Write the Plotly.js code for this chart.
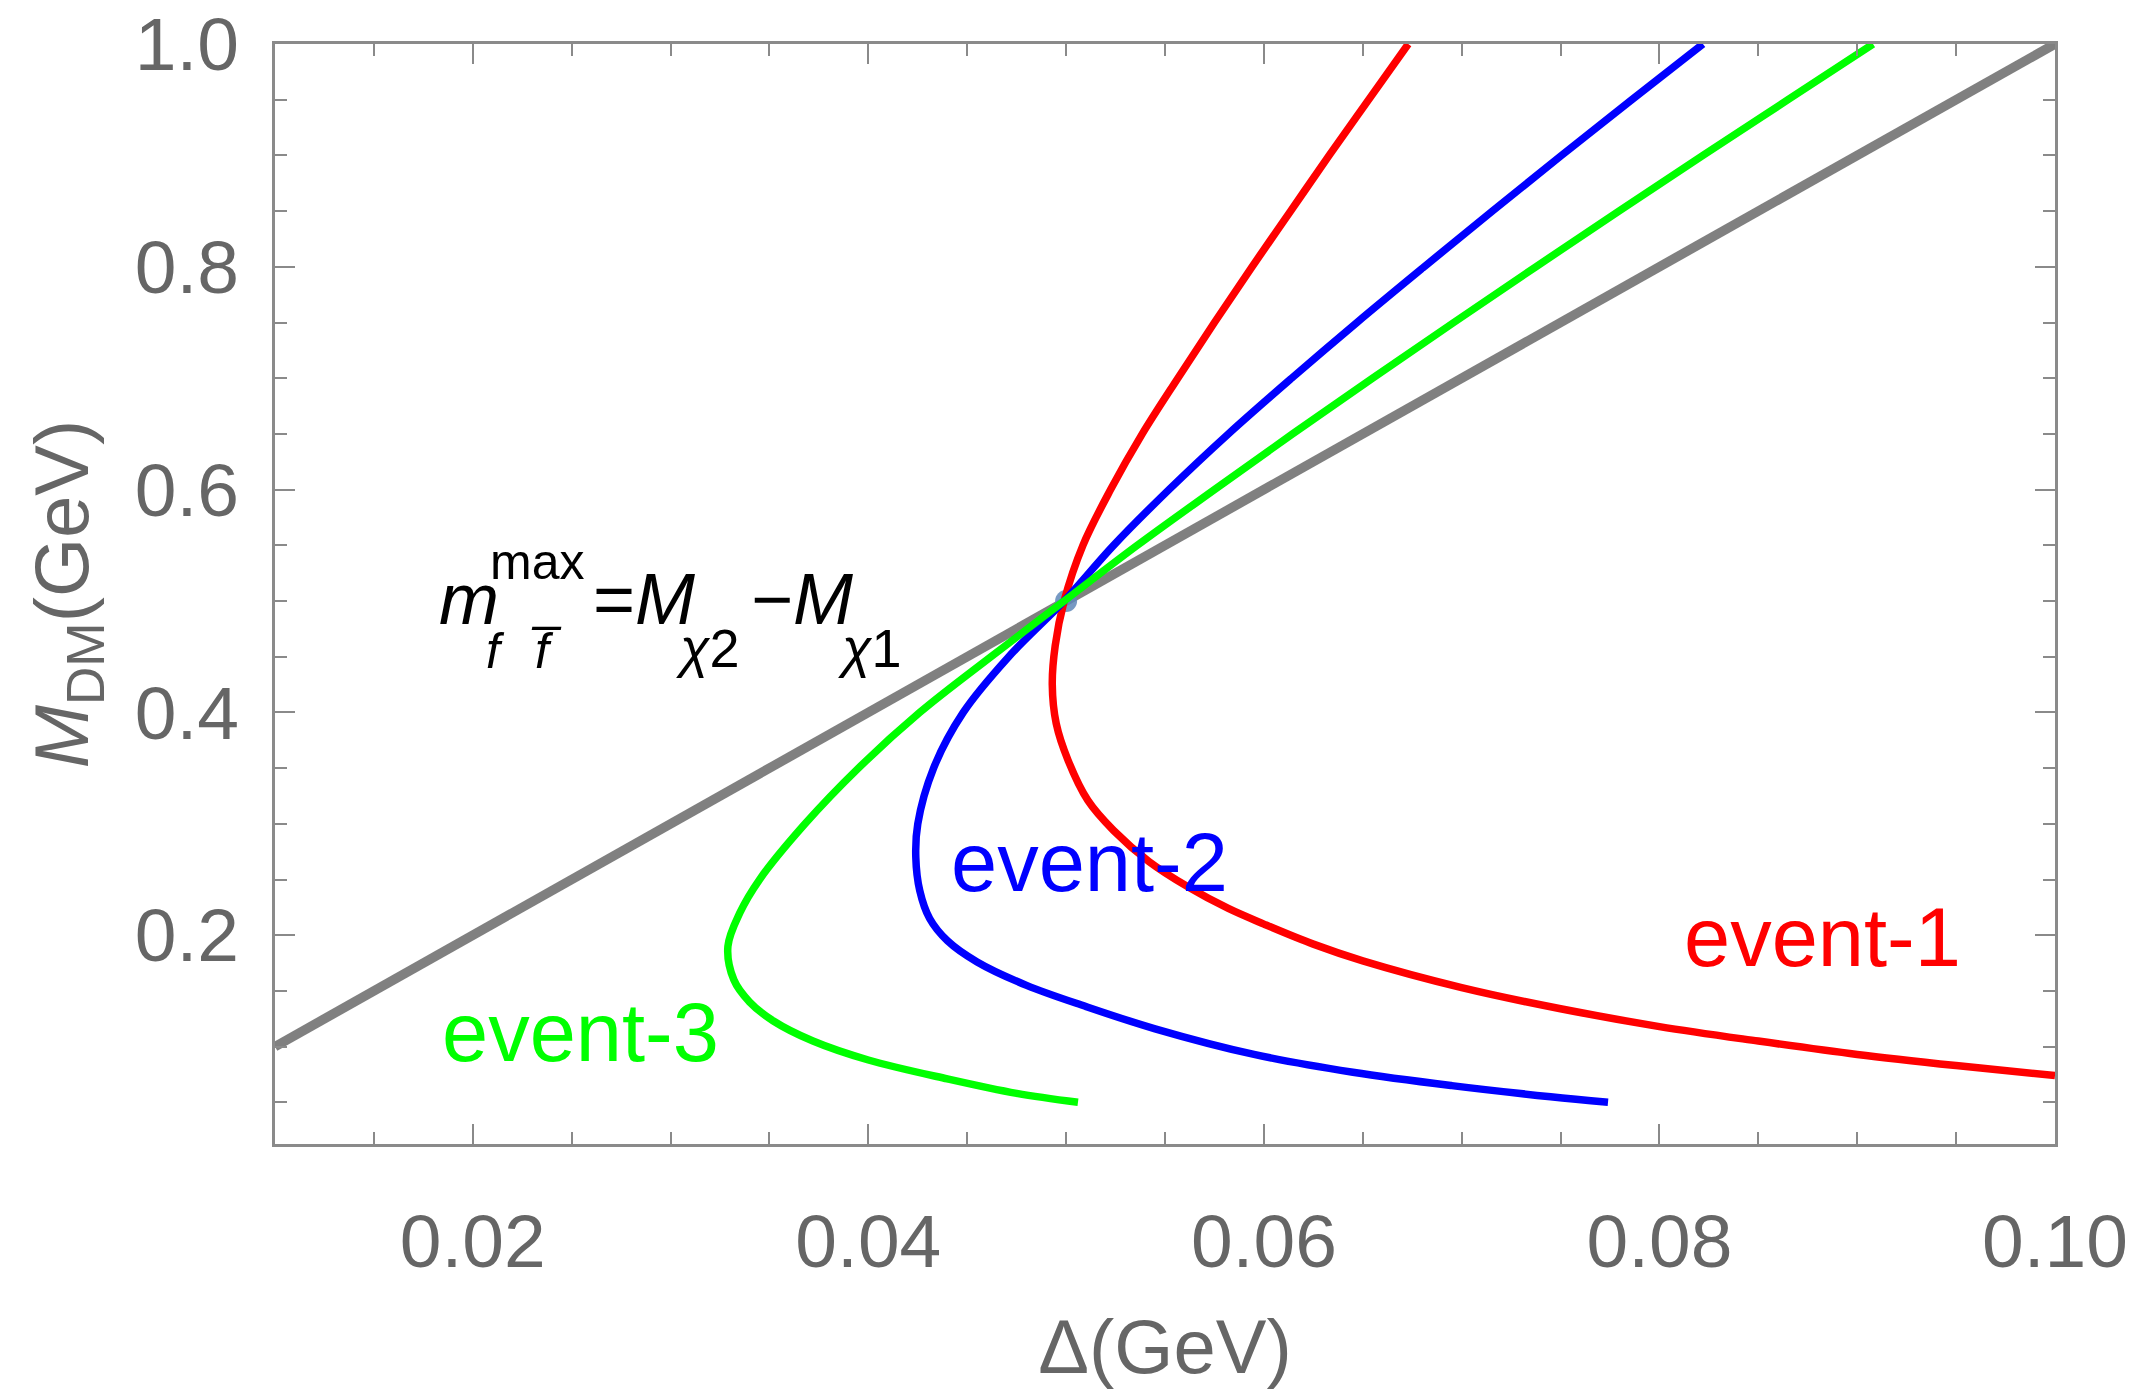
<!DOCTYPE html>
<html><head><meta charset="utf-8">
<script src="https://cdn.plot.ly/plotly-3.0.1.min.js"></script>
<style>html,body{margin:0;padding:0;background:#fff}</style>
</head><body>
<div id="chart" style="width:2141px;height:1389px"></div>
<script>
// gray reference line  m_ff^max = M_chi2 - M_chi1
const boundaryX = [0.01, 0.10];
const boundaryY = [0.10, 1.00];

// event-1 (red)
const event1X = [0.0673, 0.0653, 0.0633, 0.06135, 0.0594, 0.0575, 0.05565, 0.05385, 0.05225, 0.05085, 0.0499, 0.04945, 0.0493, 0.0495, 0.0501, 0.0511, 0.0524, 0.0542, 0.0562, 0.0582, 0.0600, 0.0625, 0.0650, 0.0700, 0.0750, 0.0800, 0.0850, 0.0900, 0.0950, 0.1000];
const event1Y = [1.000, 0.950, 0.900, 0.850, 0.800, 0.750, 0.700, 0.650, 0.600, 0.550, 0.500, 0.460, 0.425, 0.390, 0.357, 0.321, 0.294, 0.266, 0.243, 0.224, 0.210, 0.192, 0.177, 0.153, 0.134, 0.118, 0.105, 0.093, 0.083, 0.074];

// event-2 (blue)
const event2X = [0.0822, 0.0786, 0.07505, 0.07155, 0.0681, 0.0647, 0.0614, 0.0582, 0.0552, 0.0524, 0.0499, 0.0471, 0.0448, 0.0433, 0.0425, 0.0424, 0.0426, 0.0431, 0.0440, 0.0455, 0.0480, 0.0510, 0.0545, 0.0595, 0.0645, 0.0695, 0.0745, 0.0774];
const event2Y = [1.000, 0.950, 0.900, 0.850, 0.800, 0.750, 0.700, 0.650, 0.600, 0.550, 0.500, 0.450, 0.400, 0.350, 0.300, 0.270, 0.240, 0.215, 0.195, 0.176, 0.155, 0.136, 0.116, 0.093, 0.077, 0.065, 0.055, 0.050];

// event-3 (green)
const event3X = [0.0908, 0.0865, 0.0822, 0.07795, 0.07375, 0.0696, 0.0655, 0.06145, 0.0575, 0.0536, 0.0499, 0.0462, 0.0426, 0.0395, 0.0368, 0.0345, 0.0335, 0.0329, 0.0332, 0.0340, 0.0352, 0.0372, 0.0400, 0.0440, 0.0475, 0.0506];
const event3Y = [1.000, 0.950, 0.900, 0.850, 0.800, 0.750, 0.700, 0.650, 0.600, 0.550, 0.500, 0.450, 0.400, 0.350, 0.300, 0.250, 0.220, 0.190, 0.160, 0.140, 0.123, 0.105, 0.088, 0.071, 0.058, 0.050];

// common crossing point
const crossX = [0.05];
const crossY = [0.5];

const labelNames = ['event-1', 'event-2', 'event-3'];
const seriesColors = ['#ff0000', '#0000ff', '#00ff00'];

const axisGray = '#8a8a8a';
const textGray = '#666666';
const FONT = 'Liberation Sans, Arial, Helvetica, sans-serif';

const lineStyle = (c) => ({color: c, width: 7.5, shape: 'spline', smoothing: 1});

const traces = [
  {x: boundaryX, y: boundaryY, mode: 'lines', line: {color: '#808080', width: 9.5}, hoverinfo: 'skip'},
  {x: crossX, y: crossY, mode: 'markers', marker: {color: 'rgba(95,135,185,0.85)', size: 22}, hoverinfo: 'skip'},
  {x: event1X, y: event1Y, mode: 'lines', line: lineStyle(seriesColors[0]), name: labelNames[0]},
  {x: event2X, y: event2Y, mode: 'lines', line: lineStyle(seriesColors[1]), name: labelNames[1]},
  {x: event3X, y: event3Y, mode: 'lines', line: lineStyle(seriesColors[2]), name: labelNames[2]}
];

function ann(text, x, y, size, color, xanchor) {
  return {text: text, x: x, y: y, xref: 'x', yref: 'y', xanchor: xanchor || 'left', yanchor: 'bottom',
          showarrow: false, borderpad: 0, font: {family: FONT, size: size, color: color}};
}

const dF = 0.024; // vertical placement of the formula block
const layout = {
  width: 2141, height: 1389,
  margin: {l: 275, r: 86, t: 44, b: 245, pad: 0},
  paper_bgcolor: '#ffffff', plot_bgcolor: '#ffffff',
  showlegend: false,
  font: {family: FONT, color: textGray},
  xaxis: {
    range: [0.01, 0.10], tick0: 0, dtick: 0.02, tickformat: '.2f',
    ticks: 'inside', ticklen: 20, tickwidth: 2, tickcolor: axisGray,
    minor: {dtick: 0.005, ticks: 'inside', ticklen: 12, tickwidth: 2, tickcolor: axisGray, showgrid: false},
    showline: true, linecolor: axisGray, linewidth: 3, mirror: 'ticks',
    showgrid: false, zeroline: false,
    tickfont: {family: FONT, size: 75, color: textGray},
    ticklabelstandoff: 30,
    title: {text: 'Δ(GeV)', font: {family: FONT, size: 76, color: textGray}, standoff: 55}
  },
  yaxis: {
    range: [0.0126, 1.0], tick0: 0, dtick: 0.2, tickformat: '.1f',
    ticks: 'inside', ticklen: 20, tickwidth: 2, tickcolor: axisGray,
    minor: {dtick: 0.05, ticks: 'inside', ticklen: 12, tickwidth: 2, tickcolor: axisGray, showgrid: false},
    showline: true, linecolor: axisGray, linewidth: 3, mirror: 'ticks',
    showgrid: false, zeroline: false,
    tickfont: {family: FONT, size: 75, color: textGray},
    ticklabelstandoff: 18,
    title: {text: '<i>M</i><sub>DM</sub>(GeV)', font: {family: FONT, size: 76, color: textGray}, standoff: 22}
  },
  annotations: [
    ann('<i>m</i>', 0.01826, 0.4408 + dF, 72, '#000000'),
    ann('<i>f\u2002\u2009f\u0305</i>', 0.02064, 0.4048 + dF, 50, '#000000'),
    ann('max', 0.02084, 0.4847 + dF, 50, '#000000'),
    ann('=<i>M</i>', 0.02605, 0.4408 + dF, 72, '#000000'),
    ann('<i>χ</i>2', 0.03020, 0.4060 + dF, 54, '#000000'),
    ann('−<i>M</i>', 0.03404, 0.4408 + dF, 72, '#000000'),
    ann('<i>χ</i>1', 0.03843, 0.4060 + dF, 54, '#000000'),
    ann(labelNames[0], 0.0812, 0.1553, 83, seriesColors[0]),
    ann(labelNames[1], 0.04414, 0.2226, 83, seriesColors[1]),
    ann(labelNames[2], 0.01837, 0.0700, 83, seriesColors[2])
  ]
};

Plotly.newPlot('chart', traces, layout, {staticPlot: true, displayModeBar: false});
</script>
</body></html>
